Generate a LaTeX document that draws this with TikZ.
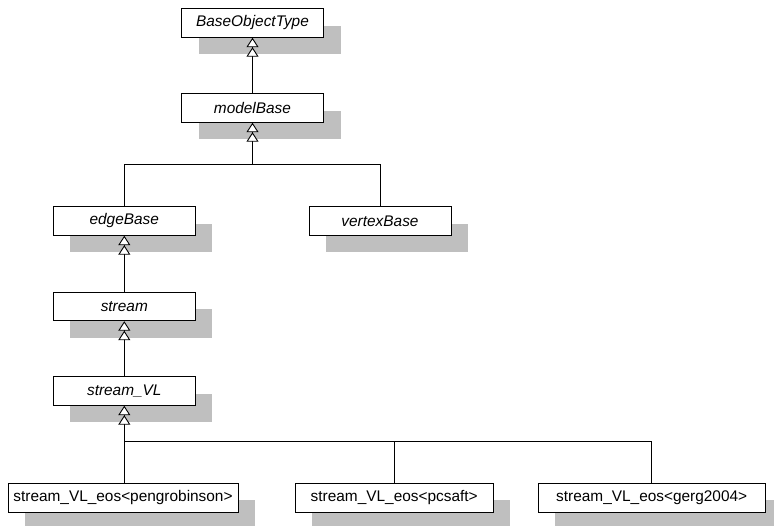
\documentclass[tikz,border=0pt]{standalone}
\usepackage{fontspec}
\setmainfont{Liberation Sans}
\usetikzlibrary{arrows.meta,shadows}

\begin{document}
\begin{tikzpicture}[x=1pt,y=-1pt,line width=0.9pt]
    \tikzstyle{cls} = [draw,fill=white,minimum width=142pt,minimum height=28.5pt,inner sep=0pt,font=\fontsize{15.4}{18}\selectfont,general shadow={fill=black!25,shadow xshift=17pt,shadow yshift=-17pt}]
    \tikzstyle{abs} = [cls,font=\fontsize{15.4}{18}\selectfont\itshape]
    \tikzstyle{inh} = [-{Triangle[fill=white,length=9.5pt,width=12pt,sep=0pt]Triangle[fill=white,length=9.5pt,width=12pt]}]
        \useasboundingbox (0,0) rectangle (774,526);
        % class boxes
        \node[abs] (base) at (252.5,23) {BaseObjectType};
        \node[abs] (model) at (252.5,108) {modelBase};
        \node[abs] (edge) at (124.3,221) {edgeBase};
        \node[abs] (vertex) at (380,221) {vertexBase};
        \node[abs] (stream) at (124.3,306.5) {stream};
        \node[abs] (svl) at (124.3,391) {stream\_VL};
        \node[cls,minimum width=230pt,minimum height=29pt] (peng) at (123,497.7) {stream\_VL\_eos<pengrobinson>};
        \node[cls,minimum width=198pt,minimum height=29pt] (pcs) at (394.2,497.7) {stream\_VL\_eos<pcsaft>};
        \node[cls,minimum width=227pt,minimum height=29pt] (gerg) at (651.7,497.7) {stream\_VL\_eos<gerg2004>};
        % inheritance
        \coordinate (j1) at (252.5,164.3);
        \coordinate (j2) at (124.3,441.5);
        \draw[inh] (model.north) -- (base.south);
        \draw[inh] (j1) -- (model.south);
        \draw (edge.north) |- (j1) -| (vertex.north);
        \draw[inh] (stream.north) -- (edge.south);
        \draw[inh] (svl.north) -- (stream.south);
        \draw[inh] (j2) -- (svl.south);
        \draw (j2 |- peng.north) -- (j2) -| (gerg.north);
        \draw (pcs.north) -- (pcs.north |- j2);
    \end{tikzpicture}
\end{document}
